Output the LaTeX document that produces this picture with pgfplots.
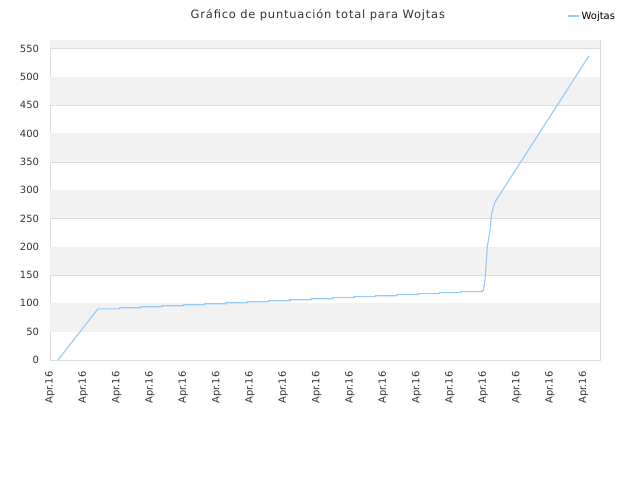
\documentclass[border=0pt]{standalone}
\usepackage{fontspec}
\setmainfont{DejaVu Sans}
\usepackage{pgfplots}
\pgfplotsset{compat=1.18}
\definecolor{linecol}{RGB}{150,200,248}
\definecolor{band}{RGB}{242,242,242}
\definecolor{gridc}{RGB}{221,221,221}
\definecolor{txt}{RGB}{51,51,51}
\begin{document}
\begin{tikzpicture}
\path[use as bounding box] (0,0) rectangle (640bp,480bp);
\begin{axis}[
  at={(50bp,120bp)}, anchor=south west,
  scale only axis, width=550bp, height=320bp,
  xmin=0, xmax=16.5, ymin=0, ymax=565,
  axis line style={gridc},
  xtick={0,1,...,16},
  xticklabels={Apr.16,Apr.16,Apr.16,Apr.16,Apr.16,Apr.16,Apr.16,Apr.16,Apr.16,Apr.16,Apr.16,Apr.16,Apr.16,Apr.16,Apr.16,Apr.16,Apr.16},
  x tick label style={rotate=90, anchor=east, xshift=-8bp, font=\fontsize{10}{11}\selectfont, text=txt},
  ytick={0,50,...,550},
  y tick label style={xshift=-7.5bp, font=\fontsize{10}{11}\selectfont, text=txt},
  /pgf/number format/assume math mode=true,
  major tick length=0pt,
  ymajorgrids, grid style={gridc},
  title={Gráfico de puntuación total para Wojtas},
  title style={at={(0.487,1.06)}, anchor=center, font=\fontsize{11.5}{13}\selectfont\addfontfeature{LetterSpace=7}, text=txt},
  legend style={at={(0.935,1.075)}, anchor=west, draw=none, fill=none, font=\fontsize{10}{11}\selectfont, text=black},
  legend image code/.code={\draw[linecol, line width=1.2pt] (0bp,0bp) -- (11bp,0bp);},
]
\fill[band] (axis cs:0,50) rectangle (axis cs:16.5,100);
\fill[band] (axis cs:0,150) rectangle (axis cs:16.5,200);
\fill[band] (axis cs:0,250) rectangle (axis cs:16.5,300);
\fill[band] (axis cs:0,350) rectangle (axis cs:16.5,400);
\fill[band] (axis cs:0,450) rectangle (axis cs:16.5,500);
\fill[band] (axis cs:0,550) rectangle (axis cs:16.5,565);
\addplot[linecol, line width=1.1pt, mark=none] coordinates {
(0.24,0)
(1.44,90.4) (2.08,90.4) (2.08,92.2) (2.72,92.2) (2.72,94.0) (3.36,94.0)
(3.36,95.7) (4.00,95.7) (4.00,97.5) (4.64,97.5) (4.64,99.3) (5.28,99.3)
(5.28,101.1) (5.92,101.1) (5.92,102.9) (6.56,102.9) (6.56,104.6) (7.20,104.6)
(7.20,106.4) (7.84,106.4) (7.84,108.2) (8.48,108.2) (8.48,110.0) (9.12,110.0)
(9.12,111.8) (9.76,111.8) (9.76,113.5) (10.40,113.5) (10.40,115.3) (11.04,115.3)
(11.04,117.1) (11.68,117.1) (11.68,118.9) (12.32,118.9) (12.32,120.7) (12.96,120.7)
(12.96,122.4) (13.00,122.4)
(13.05,141) (13.12,200) (13.20,229) (13.25,259) (13.35,279)
(16.17,537)
};
\addlegendentry{Wojtas}
\end{axis}
\end{tikzpicture}
\end{document}
